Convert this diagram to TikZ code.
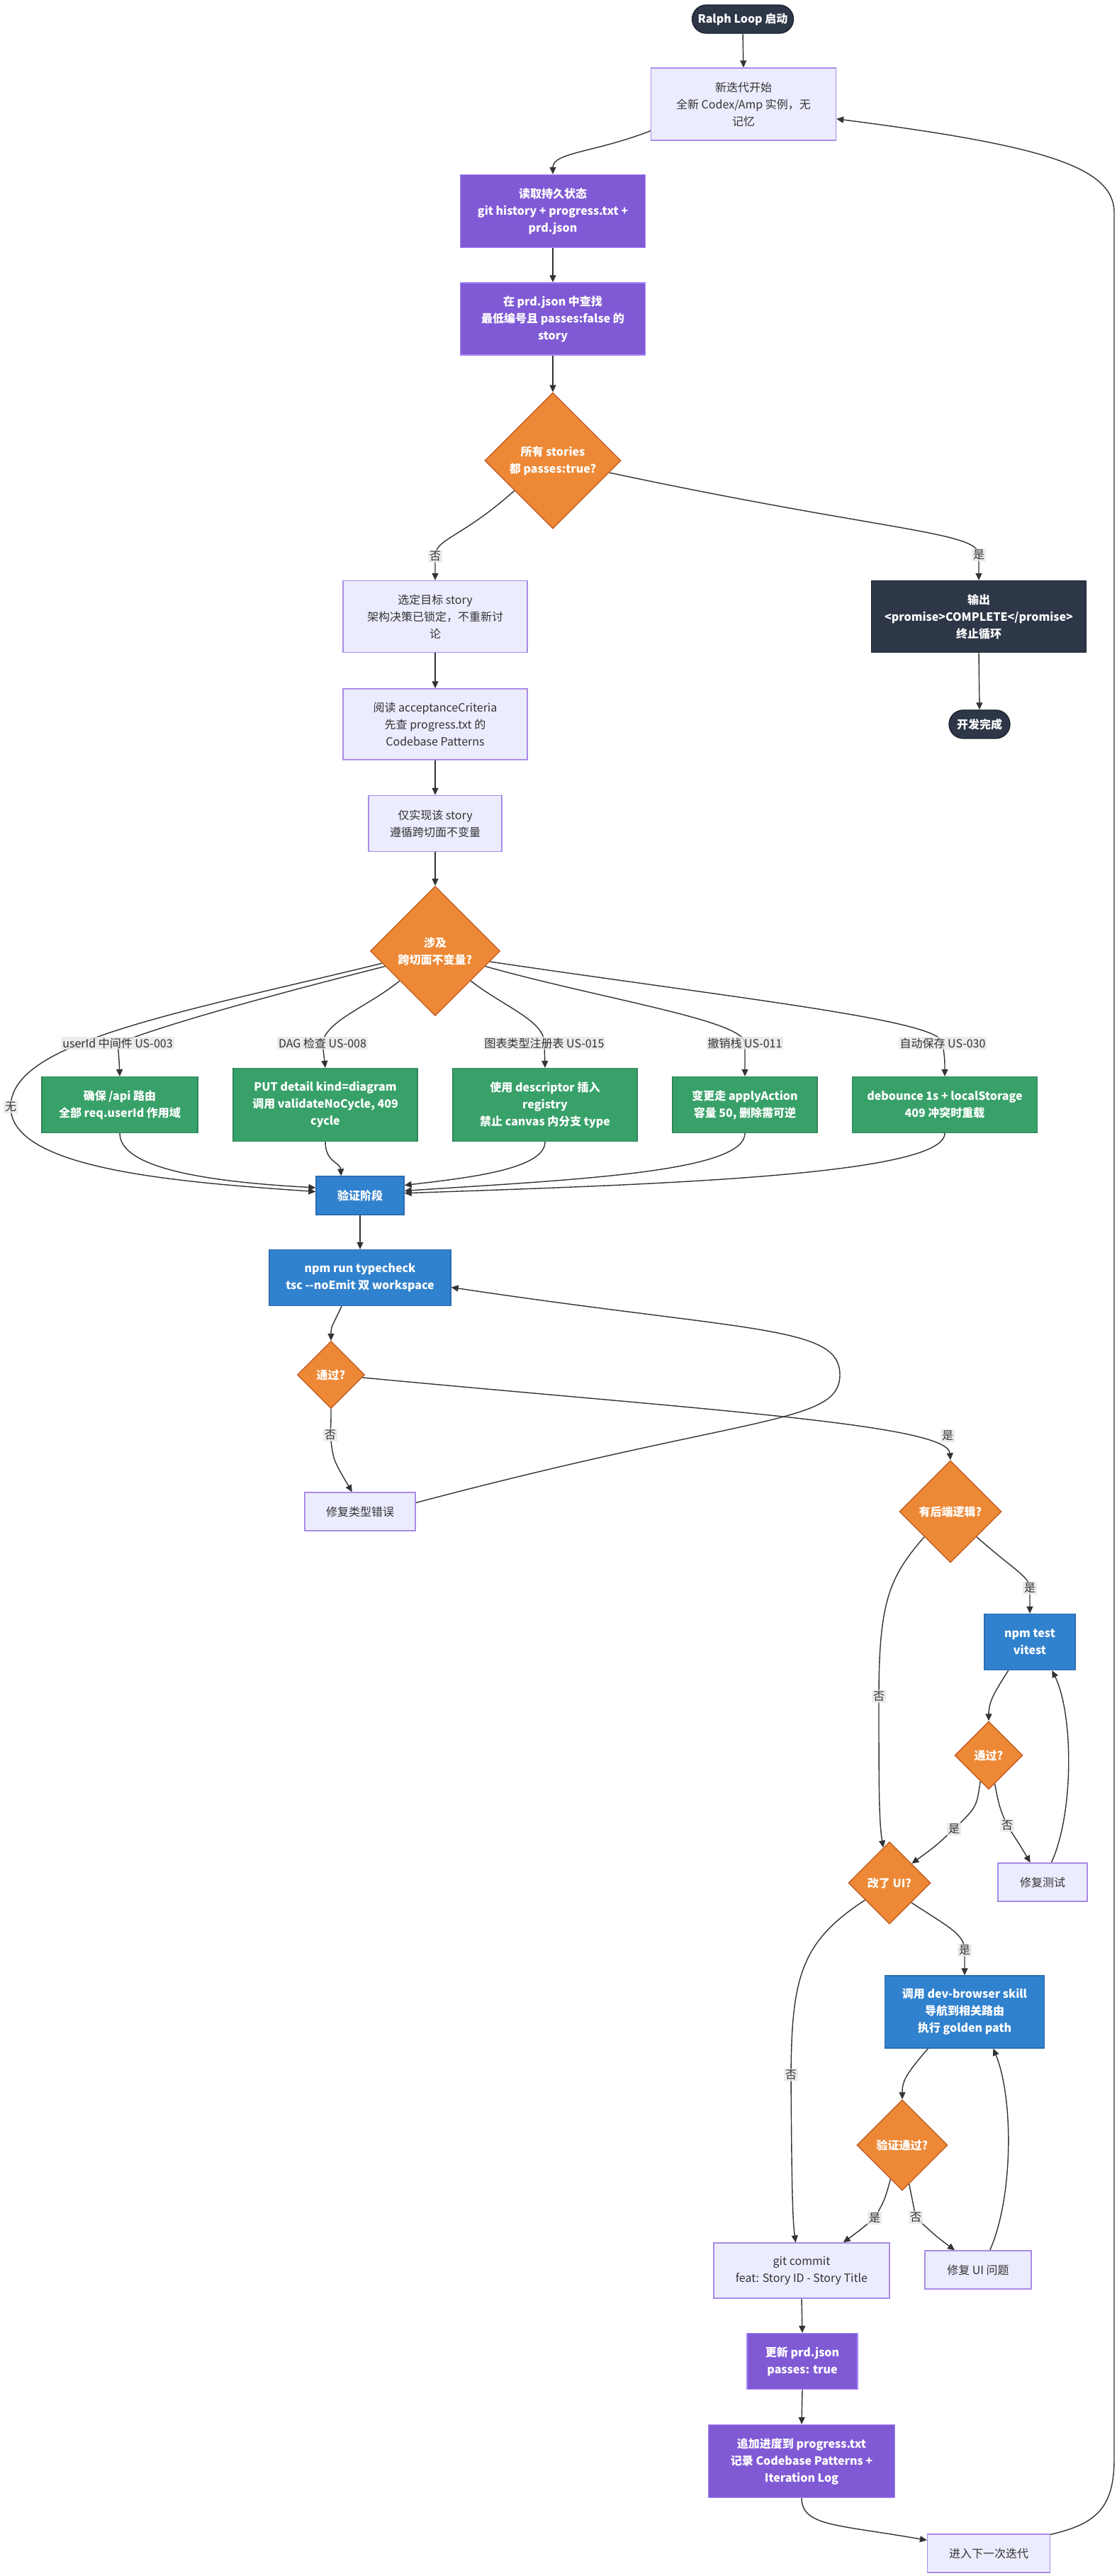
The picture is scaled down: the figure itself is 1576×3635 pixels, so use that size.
\documentclass[tikz,border=0pt]{standalone}
\usepackage{fontspec}
\setmainfont{Noto Sans CJK SC}
\usetikzlibrary{shapes.geometric,arrows.meta,backgrounds}
\definecolor{darkfill}{HTML}{2D3748}
\definecolor{darkline}{HTML}{1A202C}
\definecolor{lavfill}{HTML}{ECECFF}
\definecolor{lavline}{HTML}{A98BE6}
\definecolor{purfill}{HTML}{805AD5}
\definecolor{purline}{HTML}{A78BFA}
\definecolor{orafill}{HTML}{ED8936}
\definecolor{oraline}{HTML}{C05621}
\definecolor{grnfill}{HTML}{38A169}
\definecolor{grnline}{HTML}{2F855A}
\definecolor{blufill}{HTML}{3182CE}
\definecolor{bluline}{HTML}{2B6CB0}
\definecolor{edgecol}{HTML}{333333}
\definecolor{txtgray}{HTML}{333333}
\definecolor{lblbg}{HTML}{E8E8E8}
\begin{document}
\begin{tikzpicture}[x=1pt, y=-1pt, >={Triangle[length=10pt,width=9pt]},
  every node/.style={font=\fontsize{16}{24}\selectfont, align=center, inner sep=0pt},
  boxsize/.style 2 args={minimum width=#1pt, minimum height=#2pt},
  plain/.style={draw=lavline, fill=lavfill, line width=1.3pt, text=txtgray},
  boldtext/.style={text=white, font=\fontsize{16}{24}\selectfont\bfseries},
  terminal/.style={boldtext, draw=darkline, fill=darkfill, line width=1.3pt, rounded corners=20pt, minimum height=40pt},
  stateop/.style={boldtext, draw=purline, fill=purfill, line width=1.3pt},
  invbox/.style={boldtext, draw=grnline, fill=grnfill, line width=1.3pt},
  checkbox/.style={boldtext, draw=bluline, fill=blufill, line width=1.3pt},
  decision/.style={boldtext, shape=diamond, aspect=1, draw=oraline, fill=orafill, line width=1.3pt, minimum width=#1pt, minimum height=#1pt},
  elabel/.style={fill=lblbg, fill opacity=0.8, text opacity=1, text=txtgray, inner sep=2pt},
  flow/.style={->, draw=edgecol, line width=1.4pt}]
  \useasboundingbox (0,0) rectangle (1576,3635);

  % Start of an iteration
  \node[terminal, minimum width=143pt] (start) at (1048,27) {Ralph Loop 启动};
  \node[plain, boxsize={261}{102}] (iter) at (1049,147) {新迭代开始\\全新 Codex/Amp 实例，无\\记忆};
  \node[stateop, boxsize={261}{103}] (read) at (780,298) {读取持久状态\\git history + progress.txt +\\prd.json};
  \node[stateop, boxsize={261}{102}] (find) at (780,450) {在 prd.json 中查找\\最低编号且 passes:false 的\\story};
  \node[decision=192] (all) at (780,650) {所有 stories\\都 passes:true?};
  \node[plain, boxsize={260}{101}] (sel) at (614,870) {选定目标 story\\架构决策已锁定，不重新讨\\论};
  \node[terminal, rounded corners=0pt, boxsize={303}{101}] (out) at (1381,870) {输出\\<promise>COMPLETE</promise>\\终止循环};
  \node[terminal, minimum width=86pt] (done) at (1382,1022) {开发完成};
  \node[plain, boxsize={260}{100}] (read2) at (614,1022) {阅读 acceptanceCriteria\\先查 progress.txt 的\\Codebase Patterns};
  \node[plain, boxsize={188}{79}] (impl) at (614,1162) {仅实现该 story\\遵循跨切面不变量};
  \node[decision=183] (inv) at (614,1342) {涉及\\跨切面不变量?};

  % Cross-cutting invariants
  \node[invbox, boxsize={220}{79}] (uid) at (169,1559) {确保 /api 路由\\全部 req.userId 作用域};
  \node[invbox, boxsize={260}{103}] (put) at (459,1559) {PUT detail kind=diagram\\调用 validateNoCycle, 409\\cycle};
  \node[invbox, boxsize={260}{103}] (reg) at (769,1559) {使用 descriptor 插入\\registry\\禁止 canvas 内分支 type};
  \node[invbox, boxsize={204}{79}] (undo) at (1051,1559) {变更走 applyAction\\容量 50, 删除需可逆};
  \node[invbox, boxsize={261}{79}] (save) at (1333,1559) {debounce 1s + localStorage\\409 冲突时重载};

  % Checks
  \node[checkbox, boxsize={124}{54}] (valid) at (508,1687) {验证阶段};
  \node[checkbox, boxsize={256}{79}] (tc) at (508,1803) {npm run typecheck\\tsc -{}-noEmit 双 workspace};
  \node[decision=95] (pass1) at (467,1940) {通过?};
  \node[plain, boxsize={156}{54}] (fix1) at (508,2133) {修复类型错误};
  \node[decision=144] (back) at (1341,2133) {有后端逻辑?};
  \node[checkbox, boxsize={128}{79}] (test) at (1453,2317) {npm test\\vitest};
  \node[decision=96] (pass2) at (1395,2477) {通过?};
  \node[plain, boxsize={126}{54}] (fixt) at (1471,2656) {修复测试};
  \node[decision=116] (ui) at (1255,2657) {改了 UI?};
  \node[checkbox, boxsize={225}{102}] (dev) at (1361,2839) {调用 dev-browser skill\\导航到相关路由\\执行 golden path};
  \node[decision=128] (vpass) at (1273,3027) {验证通过?};
  \node[plain, boxsize={248}{78}] (git) at (1131,3204) {git commit\\feat: Story ID - Story Title};
  \node[plain, boxsize={150}{54}] (fixui) at (1380,3203) {修复 UI 问题};

  % Wrap-up
  \node[stateop, boxsize={156}{79}] (upd) at (1132,3332) {更新 prd.json\\passes: true};
  \node[stateop, boxsize={263}{103}] (app) at (1131,3473) {追加进度到 progress.txt\\记录 Codebase Patterns +\\Iteration Log};
  \node[plain, boxsize={173}{54}] (next) at (1395,3603) {进入下一次迭代};

  % Edge labels
  \node[elabel] (lno1) at (614,785) {否};
  \node[elabel] (lyes1) at (1381,783) {是};
  \node[elabel] (lnone) at (15,1562) {无};
  \node[elabel] (luid) at (166,1472) {userId 中间件 US-003};
  \node[elabel] (ldag) at (455,1472) {DAG 检查 US-008};
  \node[elabel] (lchart) at (768,1472) {图表类型注册表 US-015};
  \node[elabel] (lundo) at (1051,1472) {撤销栈 US-011};
  \node[elabel] (lsave) at (1330,1472) {自动保存 US-030};
  \node[elabel] (lno2) at (466,2025) {否};
  \node[elabel] (lyes2) at (1337,2026) {是};
  \node[elabel] (lyes3) at (1453,2241) {是};
  \node[elabel] (lno3) at (1240,2394) {否};
  \node[elabel] (lyes4) at (1346,2581) {是};
  \node[elabel] (lno4) at (1421,2576) {否};
  \node[elabel] (lyes5) at (1361,2752) {是};
  \node[elabel] (lno5) at (1116,2928) {否};
  \node[elabel] (lyes6) at (1234,3130) {是};
  \node[elabel] (lno6) at (1292,3129) {否};

  \coordinate (tcloop) at (1185,1940);
  \coordinate (looptop) at (1572,300);
  \coordinate (loopbot) at (1572,3470);

  \begin{scope}[on background layer]
    \fill[white] (0,0) rectangle (1576,3635);
    % Main spine
    \draw[flow] (start.south) -- (iter.north);
    \draw[flow] (iter.196) .. controls (840,215) and (780,215) .. (read.north);
    \draw[flow] (read.south) -- (find.north);
    \draw[flow] (find.south) -- (all.north);
    \draw[flow] (all.-142) .. controls (650,760) and (614,760) .. (lno1.center) -- (sel.north);
    \draw[flow] (all.-12) .. controls (1250,750) and (1381,750) .. (lyes1.center) -- (out.north);
    \draw[flow] (out.south) -- (done.north);
    \draw[flow] (sel.south) -- (read2.north);
    \draw[flow] (read2.south) -- (impl.north);
    \draw[flow] (impl.south) -- (inv.north);
    % Invariant branches
    \draw[flow] (inv.193) .. controls (250,1430) and (15,1470) .. (lnone.center) .. controls (15,1650) and (250,1668) .. (valid.175);
    \draw[flow] (inv.197) .. controls (400,1400) and (250,1440) .. (luid.center) .. controls (168,1495) .. (uid.north);
    \draw[flow] (inv.220) .. controls (520,1420) and (460,1440) .. (ldag.center) -- (put.north);
    \draw[flow] (inv.-40) .. controls (710,1420) and (768,1440) .. (lchart.center) -- (reg.north);
    \draw[flow] (inv.-17) .. controls (850,1410) and (1051,1440) .. (lundo.center) -- (undo.north);
    \draw[flow] (inv.-11) .. controls (1050,1410) and (1330,1440) .. (lsave.center) .. controls (1333,1495) .. (save.north);
    \draw[flow] (uid.south) .. controls (169,1650) and (300,1668) .. (valid.170);
    \draw[flow] (put.south) .. controls (459,1640) and (480,1640) .. (valid.134);
    \draw[flow] (reg.south) .. controls (769,1650) and (660,1662) .. (valid.13);
    \draw[flow] (undo.south) .. controls (1051,1655) and (800,1665) .. (valid.6);
    \draw[flow] (save.south) .. controls (1333,1660) and (900,1672) .. (valid.3);
    % Typecheck
    \draw[flow] (valid.south) -- (tc.north);
    \draw[flow] (tc.-123) .. controls (470,1870) and (467,1870) .. (pass1.north);
    \draw[flow] (pass1.south) .. controls (467,2005) .. (lno2.center) .. controls (470,2060) .. (fix1.112);
    \draw[flow] (fix1.9) .. controls (1060,1995) and (1185,2010) .. (tcloop) .. controls (1185,1870) and (1060,1880) .. (tc.-6);
    \draw[flow] (pass1.-5) .. controls (1000,1990) and (1337,2010) .. (back.north);
    % Tests
    \draw[flow] (back.-44) .. controls (1430,2215) and (1453,2225) .. (lyes3.center) -- (test.north);
    \draw[flow] (back.-136) .. controls (1255,2225) and (1240,2260) .. (lno3.center) .. controls (1240,2520) and (1240,2570) .. (ui.100);
    \draw[flow] (test.-127) .. controls (1405,2385) and (1395,2400) .. (pass2.north);
    \draw[flow] (pass2.-108) .. controls (1378,2550) .. (lyes4.center) .. controls (1320,2605) .. (ui.41);
    \draw[flow] (pass2.-78) .. controls (1410,2550) .. (lno4.center) .. controls (1440,2605) .. (fixt.122);
    \draw[flow] (fixt.66) .. controls (1515,2560) and (1515,2420) .. (test.-52);
    % Browser check
    \draw[flow] (ui.-145) .. controls (1130,2740) and (1117,2790) .. (lno5.center) .. controls (1117,3080) and (1118,3130) .. (git.102);
    \draw[flow] (ui.-42) .. controls (1340,2720) and (1361,2730) .. (lyes5.center) -- (dev.north);
    \draw[flow] (dev.-135) .. controls (1280,2925) and (1273,2935) .. (vpass.north);
    \draw[flow] (vpass.-109) .. controls (1248,3105) .. (lyes6.center) .. controls (1212,3148) .. (git.34);
    \draw[flow] (vpass.-80) .. controls (1288,3108) .. (lno6.center) .. controls (1320,3155) .. (fixui.140);
    \draw[flow] (fixui.59) .. controls (1430,3100) and (1430,2960) .. (dev.-52);
    % Commit and loop back
    \draw[flow] (git.south) -- (upd.north);
    \draw[flow] (upd.south) -- (app.north);
    \draw[flow] (app.south) .. controls (1132,3565) and (1180,3562) .. (next.168);
    \draw[flow] (next.17) .. controls (1545,3562) and (1572,3540) .. (loopbot) -- (looptop) .. controls (1572,235) and (1470,205) .. (iter.-9);
  \end{scope}
\end{tikzpicture}
\end{document}
